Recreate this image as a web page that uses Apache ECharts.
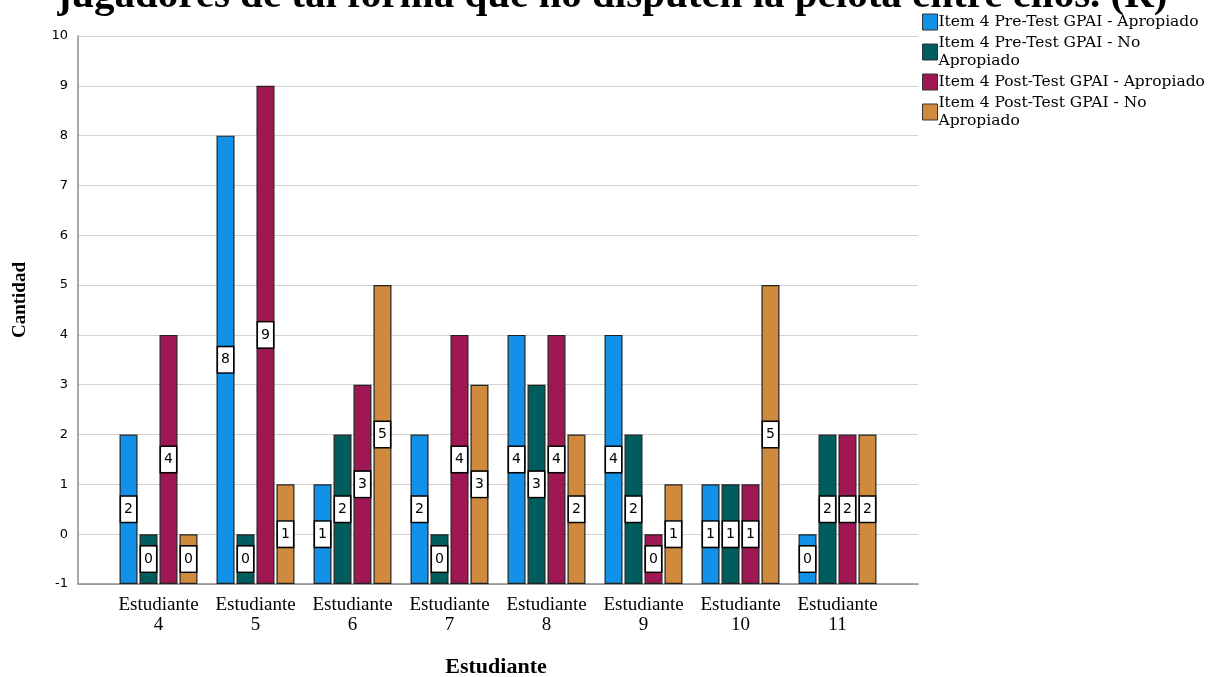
<!DOCTYPE html>
<html>
<head>
<meta charset="utf-8">
<script src="https://cdn.jsdelivr.net/npm/echarts@6/dist/echarts.min.js"></script>
<style>
html,body{margin:0;padding:0;background:#fff;}
#chart{width:1225px;height:677px;}
</style>
</head>
<body>
<div id="chart"></div>
<script>
const titleText = "jugadores de tal forma que no disputen la pelota entre ellos. (R)";
const categories = ["Estudiante\n4","Estudiante\n5","Estudiante\n6","Estudiante\n7","Estudiante\n8","Estudiante\n9","Estudiante\n10","Estudiante\n11"];
const seriesNames = ["Item 4 Pre-Test GPAI - Apropiado","Item 4 Pre-Test GPAI - No Apropiado","Item 4 Post-Test GPAI - Apropiado","Item 4 Post-Test GPAI - No Apropiado"];
const preApropiado   = [2, 8, 1, 2, 4, 4, 1, 0];
const preNoApropiado = [0, 0, 2, 0, 3, 2, 1, 2];
const postApropiado  = [4, 9, 3, 4, 4, 0, 1, 2];
const postNoApropiado= [0, 1, 5, 3, 2, 1, 5, 2];
const yMin = -1, yMax = 10;
const colors = ["#1192e8","#005d5d","#9f1853","#cf8a3d"];
const allValues = [preApropiado, preNoApropiado, postApropiado, postNoApropiado];

const chart = echarts.init(document.getElementById('chart'));
const serif = "Liberation Serif";

const series = allValues.map((vals, i) => ({
  name: seriesNames[i],
  type: 'bar',
  xAxisIndex: 1,
  yAxisIndex: 1,
  barWidth: 18,
  barGap: '11%',
  data: vals.map(v => v - yMin),
  itemStyle: { color: colors[i], borderColor: '#222', borderWidth: 1.2 },
  label: {
    show: true,
    position: 'inside',
    formatter: p => String(vals[p.dataIndex]),
    color: '#000',
    fontFamily: 'DejaVu Sans',
    fontSize: 14,
    backgroundColor: '#fff',
    borderColor: '#000',
    borderWidth: 1.5,
    padding: [6, 3, 5, 3]
  },
  emphasis: { disabled: true }
}));

chart.setOption({
  animation: false,
  title: {
    text: titleText,
    left: 'center',
    top: -29,
    textStyle: { fontFamily: serif, fontWeight: 'bold', fontSize: 41, color: '#000' }
  },
  graphic: [{
    type: 'text',
    left: 11,
    top: 262,
    rotation: Math.PI / 2,
    style: { text: 'Cantidad', font: 'bold 19px "Liberation Serif"', fill: '#000' }
  }],
  legend: {
    orient: 'vertical',
    left: 917,
    top: 8,
    itemWidth: 15,
    itemHeight: 16,
    itemGap: 3,
    icon: 'rect',
    data: seriesNames.map((n, i) => ({ name: n, itemStyle: { color: colors[i], borderColor: '#333', borderWidth: 1 } })),
    formatter: n => n.replace(' - No Apropiado', ' - No\nApropiado'),
    textStyle: { fontFamily: 'DejaVu Serif', fontSize: 15.5, color: '#000', lineHeight: 18, padding: [0,0,0,-4] }
  },
  grid: [
    { left: 78, right: 307, top: 36, bottom: 93, outerBoundsMode: 'none', containLabel: false },
    { left: 110, right: 339, top: 36, bottom: 93, outerBoundsMode: 'none', containLabel: false }
  ],
  xAxis: [
    { type: 'category', gridIndex: 0, data: [''], axisLine: { show: true, lineStyle: { color: '#8c8c8c', width: 1.5 } },
      axisTick: { show: false }, axisLabel: { show: false },
      name: 'Estudiante', nameLocation: 'middle', nameGap: 72,
      nameTextStyle: { fontFamily: serif, fontWeight: 'bold', fontSize: 22, color: '#000', padding: [0, 0, 0, -4] } },
    { type: 'category', gridIndex: 1, data: categories, axisLine: { show: false }, axisTick: { show: false },
      axisLabel: { fontFamily: serif, fontSize: 19, color: '#000', lineHeight: 20, margin: 11, interval: 0 } }
  ],
  yAxis: [
    { type: 'value', gridIndex: 0, min: 0, max: yMax - yMin, interval: 1,
      axisLine: { show: true, lineStyle: { color: '#8c8c8c', width: 1.5 } },
      axisTick: { show: false },
      splitLine: { show: true, lineStyle: { color: '#d2d2d2', width: 1.2 } },
      axisLabel: { formatter: v => String(v + yMin), fontFamily: 'DejaVu Sans', fontSize: 13, color: '#000', margin: 10 } },
    { type: 'value', gridIndex: 1, min: 0, max: yMax - yMin, interval: 1, show: false, splitLine: { show: false } }
  ],
  series: series
});
</script>
</body>
</html>
